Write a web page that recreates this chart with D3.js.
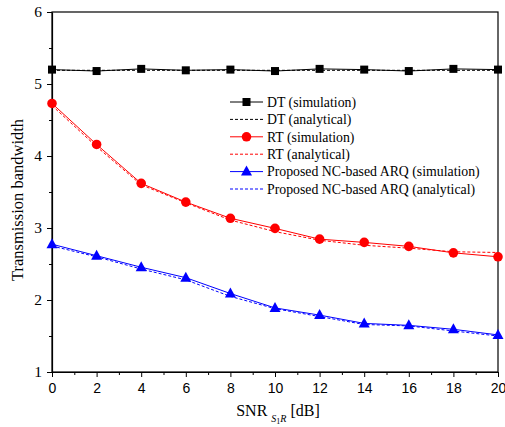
<!DOCTYPE html>
<html>
<head>
<meta charset="utf-8">
<script src="https://cdn.jsdelivr.net/npm/d3@7"></script>
<style>
  html, body { margin: 0; padding: 0; background: #fff; overflow: hidden; }
  svg { display: block; }
  svg text { font-family: 'Liberation Serif', 'DejaVu Serif', serif; }
  svg text.sans { font-family: 'Liberation Sans', 'DejaVu Sans', sans-serif; }
</style>
</head>
<body>
<svg id="chart"></svg>
<script>
const snr = [0, 2, 4, 6, 8, 10, 12, 14, 16, 18, 20];

const dtSim = [5.20, 5.18, 5.21, 5.19, 5.20, 5.18, 5.21, 5.20, 5.18, 5.21, 5.20];
const dtAna = [5.19, 5.19, 5.19, 5.19, 5.19, 5.19, 5.19, 5.19, 5.19, 5.19, 5.19];
const rtSim = [4.73, 4.16, 3.62, 3.36, 3.135, 2.995, 2.845, 2.80, 2.745, 2.655, 2.60];
const rtAna = [4.70, 4.13, 3.60, 3.35, 3.11, 2.95, 2.83, 2.76, 2.72, 2.67, 2.66];
const ncSim = [2.775, 2.615, 2.455, 2.31, 2.09, 1.89, 1.79, 1.675, 1.648, 1.593, 1.515];
const ncAna = [2.75, 2.60, 2.43, 2.28, 2.05, 1.88, 1.77, 1.66, 1.64, 1.57, 1.50];

const xTicks = [0, 2, 4, 6, 8, 10, 12, 14, 16, 18, 20];
const yTicks = [1, 2, 3, 4, 5, 6];

const series = [
  { name: 'DT (simulation)', values: dtSim, color: '#000', dash: null, marker: 'square' },
  { name: 'DT (analytical)', values: dtAna, color: '#000', dash: '3,2', marker: null },
  { name: 'RT (simulation)', values: rtSim, color: '#ff0000', dash: null, marker: 'circle' },
  { name: 'RT (analytical)', values: rtAna, color: '#ff0000', dash: '3,2', marker: null },
  { name: 'Proposed NC-based ARQ (simulation)', values: ncSim, color: '#0000ff', dash: null, marker: 'triangle' },
  { name: 'Proposed NC-based ARQ (analytical)', values: ncAna, color: '#0000ff', dash: '3,2', marker: null }
];

const width = 505, height = 427;
const margin = { top: 12, right: 7, bottom: 55, left: 52 };
const innerWidth = width - margin.left - margin.right;
const innerHeight = height - margin.top - margin.bottom;

const svg = d3.select('#chart').attr('width', width).attr('height', height);

const x = d3.scaleLinear().domain([0, 20]).range([margin.left, margin.left + innerWidth]);
const y = d3.scaleLinear().domain([1, 6]).range([margin.top + innerHeight, margin.top]);

// frame
svg.append('rect')
  .attr('x', margin.left).attr('y', margin.top)
  .attr('width', innerWidth).attr('height', innerHeight)
  .attr('fill', 'none').attr('stroke', '#000').attr('stroke-width', 1.2);

// x axis
const xAxis = svg.append('g')
  .attr('transform', `translate(0,${margin.top + innerHeight})`)
  .call(d3.axisBottom(x).tickValues(xTicks).tickFormat(d3.format('d')).tickSize(5).tickSizeOuter(0).tickPadding(6));
svg.append('g')
  .attr('transform', `translate(0,${margin.top + innerHeight})`)
  .call(d3.axisBottom(x).tickValues(d3.range(1, 20, 2)).tickSize(3).tickFormat(''))
  .select('.domain').remove();
xAxis.attr('font-family', null).attr('font-size', null);
xAxis.selectAll('text')
  .attr('class', 'sans')
  .attr('font-size', 14).attr('fill', '#000');

// y axis
const yAxis = svg.append('g')
  .attr('transform', `translate(${margin.left},0)`)
  .call(d3.axisLeft(y).tickValues(yTicks).tickFormat(d3.format('d')).tickSize(5).tickSizeOuter(0).tickPadding(5));
svg.append('g')
  .attr('transform', `translate(${margin.left},0)`)
  .call(d3.axisLeft(y).tickValues([1.5, 2.5, 3.5, 4.5, 5.5]).tickSize(3).tickFormat(''))
  .select('.domain').remove();
yAxis.attr('font-family', null).attr('font-size', null);
yAxis.selectAll('text')
  .attr('font-size', 15.5).attr('fill', '#000');

svg.selectAll('.domain').attr('stroke-width', 1.2);

// axis titles
svg.append('text')
  .attr('transform', 'rotate(-90)')
  .attr('x', -200)
  .attr('y', 23)
  .attr('text-anchor', 'middle')
  .attr('font-size', 16.5)
  .text('Transmission bandwidth');

const xt = svg.append('text')
  .attr('x', margin.left + innerWidth / 2 + 3)
  .attr('y', margin.top + innerHeight + 44)
  .attr('text-anchor', 'middle')
  .attr('font-size', 16);
xt.append('tspan').text('SNR ');
xt.append('tspan').attr('dy', 6).attr('font-size', 10).attr('font-style', 'italic').text('S');
xt.append('tspan').attr('dy', 2).attr('font-size', 8).text('1');
xt.append('tspan').attr('dy', -2).attr('font-size', 10).attr('font-style', 'italic').text('R');
xt.append('tspan').attr('dy', -6).text(' [dB]');

// lines
const line = d3.line().x((d, i) => x(snr[i])).y(d => y(d));

function drawMarker(g, type, cx, cy, color) {
  if (type === 'square') {
    g.append('rect').attr('x', cx - 4).attr('y', cy - 4).attr('width', 8).attr('height', 8).attr('fill', color);
  } else if (type === 'circle') {
    g.append('circle').attr('cx', cx).attr('cy', cy).attr('r', 4.8).attr('fill', color);
  } else if (type === 'triangle') {
    g.append('path').attr('d', `M${cx},${cy - 6}L${cx + 5.5},${cy + 4}L${cx - 5.5},${cy + 4}Z`).attr('fill', color);
  }
}

series.forEach(s => {
  svg.append('path')
    .datum(s.values)
    .attr('d', line)
    .attr('fill', 'none')
    .attr('stroke', s.color)
    .attr('stroke-width', 1)
    .attr('stroke-dasharray', s.dash);
});
series.filter(s => s.marker).forEach(s => {
  const g = svg.append('g');
  s.values.forEach((v, i) => drawMarker(g, s.marker, x(snr[i]), y(v), s.color));
});

// legend
const legend = svg.append('g').attr('transform', 'translate(230,102)');
series.forEach((s, i) => {
  const row = legend.append('g').attr('transform', `translate(0,${i * 17.4})`);
  row.append('line')
    .attr('x1', 0).attr('x2', 33)
    .attr('stroke', s.color).attr('stroke-width', 1)
    .attr('stroke-dasharray', s.dash);
  if (s.marker) drawMarker(row, s.marker, 16.5, 0, s.color);
  row.append('text')
    .attr('x', 37).attr('y', 0).attr('dy', '0.35em')
    .attr('font-size', 13.8)
    .text(s.name);
});
</script>
</body>
</html>
